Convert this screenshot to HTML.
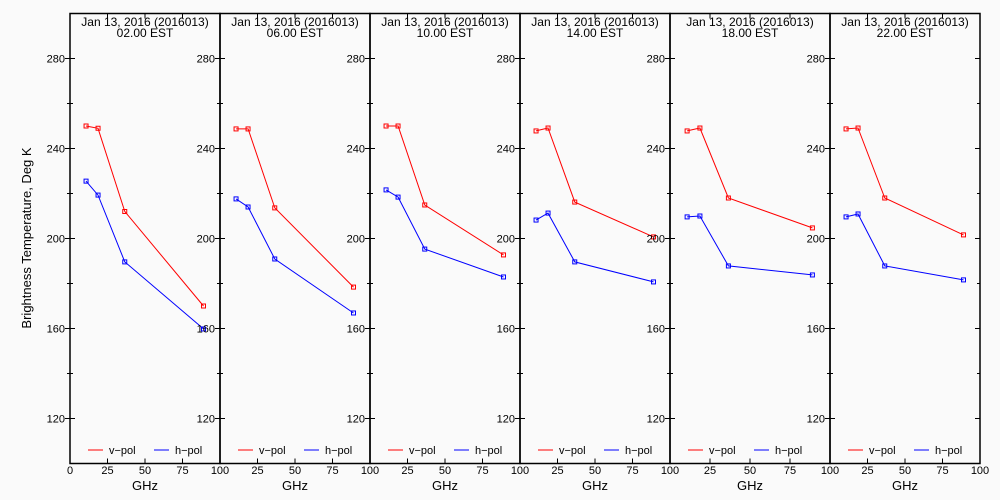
<!DOCTYPE html>
<html><head><meta charset="utf-8"><style>
html,body{margin:0;padding:0;background:#fafafa;}
svg{display:block;font-family:"Liberation Sans",sans-serif;}
</style></head><body>
<svg id="chart" width="1000" height="500" viewBox="0 0 1000 500">
<rect x="0" y="0" width="1000" height="500" fill="#fafafa"/>
<text transform="translate(31,238) rotate(-90)" text-anchor="middle" font-size="13" fill="#000">Brightness Temperature, Deg K</text>
</svg>
<script>
const times = ["02.00 EST","06.00 EST","10.00 EST","14.00 EST","18.00 EST","22.00 EST"];
const freqs = [10.7, 18.7, 36.5, 89];
const vpol = [[250,249,212,170],[248.7,248.7,213.6,178.4],[250,250,214.9,192.7],[247.8,249.1,216.2,200.7],[247.8,249.1,218,204.7],[248.7,249.1,218,201.6]];
const hpol = [[225.5,219.3,189.6,159.8],[217.6,214,190.9,166.9],[221.6,218.4,195.3,182.9],[208.2,211.3,189.6,180.7],[209.6,210,187.8,183.8],[209.6,210.9,187.8,181.6]];
const yTicks = [120,160,200,240,280];
const xTicks = [0,25,50,75,100];
const panelEdges = [70,220,370,520,670,830,980];
const NS="http://www.w3.org/2000/svg";
const svg=document.getElementById('chart');
const top0=13.5, bot0=463.5, yMin=100, yMax=300;
function yS(v){return bot0-(v-yMin)/(yMax-yMin)*(bot0-top0);}
function mk(tag,attrs,parent){const e=document.createElementNS(NS,tag);for(const k in attrs)e.setAttribute(k,attrs[k]);(parent||svg).appendChild(e);return e;}
for(let p=0;p<6;p++){
  const x0=panelEdges[p], x1=panelEdges[p+1];
  const xS=v=>x0+v/100*(x1-x0);
  const g=mk('g',{});
  
  
  const fr=mk('rect',{x:x0,y:top0,width:x1-x0,height:bot0-top0,fill:'none',stroke:'#000','stroke-width':1.5},g);
  
  
  // title
  const t1=mk('text',{x:(x0+x1)/2,y:26,'text-anchor':'middle','font-size':12},g);t1.textContent='Jan 13, 2016 (2016013)';
  
  
  const t2=mk('text',{x:(x0+x1)/2,y:37,'text-anchor':'middle','font-size':12},g);t2.textContent=times[p];
  
  
  // y ticks
  for(let v=120;v<300;v+=20){
    const y=yS(v), major=yTicks.includes(v);
    mk('line',{x1:x0-(major?5:3),x2:x0+(major?5:3),y1:y,y2:y,stroke:'#000','stroke-width':1},g);
    mk('line',{x1:x1-(major?5:3),x2:x1,y1:y,y2:y,stroke:'#000','stroke-width':1},g);
  }
  yTicks.forEach(v=>{
    const t=mk('text',{x:x0-5,y:yS(v)+4,'text-anchor':'end','font-size':11},g);t.textContent=v;
    
    
  });
  // x ticks
  xTicks.forEach(v=>{
    const x=xS(v);
    mk('line',{x1:x,x2:x,y1:top0,y2:top0+5,stroke:'#000','stroke-width':1},g);
    mk('line',{x1:x,x2:x,y1:bot0,y2:bot0-5,stroke:'#000','stroke-width':1},g);
    if(p>0 && v===0) return;
    const t=mk('text',{x:x,y:474,'text-anchor':'middle','font-size':11},g);t.textContent=v;
    
    
  });
  const gx=mk('text',{x:(x0+x1)/2,y:490,'text-anchor':'middle','font-size':13},g);gx.textContent='GHz';
  
  
  // series
  [[vpol[p],'#ff0000','v-pol-series'],[hpol[p],'#0000ff','h-pol-series']].forEach(([vals,col,nm])=>{
    const pts=vals.map((v,i)=>xS(freqs[i]).toFixed(1)+','+yS(v).toFixed(1)).join(' ');
    const pl=mk('polyline',{points:pts,fill:'none',stroke:col,'stroke-width':1},g);
    
    
    vals.forEach((v,i)=>{
      const r=mk('rect',{x:xS(freqs[i])-2,y:yS(v)-2,width:4,height:4,fill:'none',stroke:col,'stroke-width':1},g);
      
      
    });
  });
  // legend
  const lg=mk('g',{},g);
  
  
  mk('line',{x1:x0+18,x2:x0+33,y1:450,y2:450,stroke:'#ff0000','stroke-width':1},lg);
  const l1=mk('text',{x:x0+39,y:454,'font-size':11},lg);l1.textContent='v\u2212pol';
  
  
  mk('line',{x1:x0+84,x2:x0+99,y1:450,y2:450,stroke:'#0000ff','stroke-width':1},lg);
  const l2=mk('text',{x:x0+105,y:454,'font-size':11},lg);l2.textContent='h\u2212pol';
  
  
}
</script>
</body></html>
